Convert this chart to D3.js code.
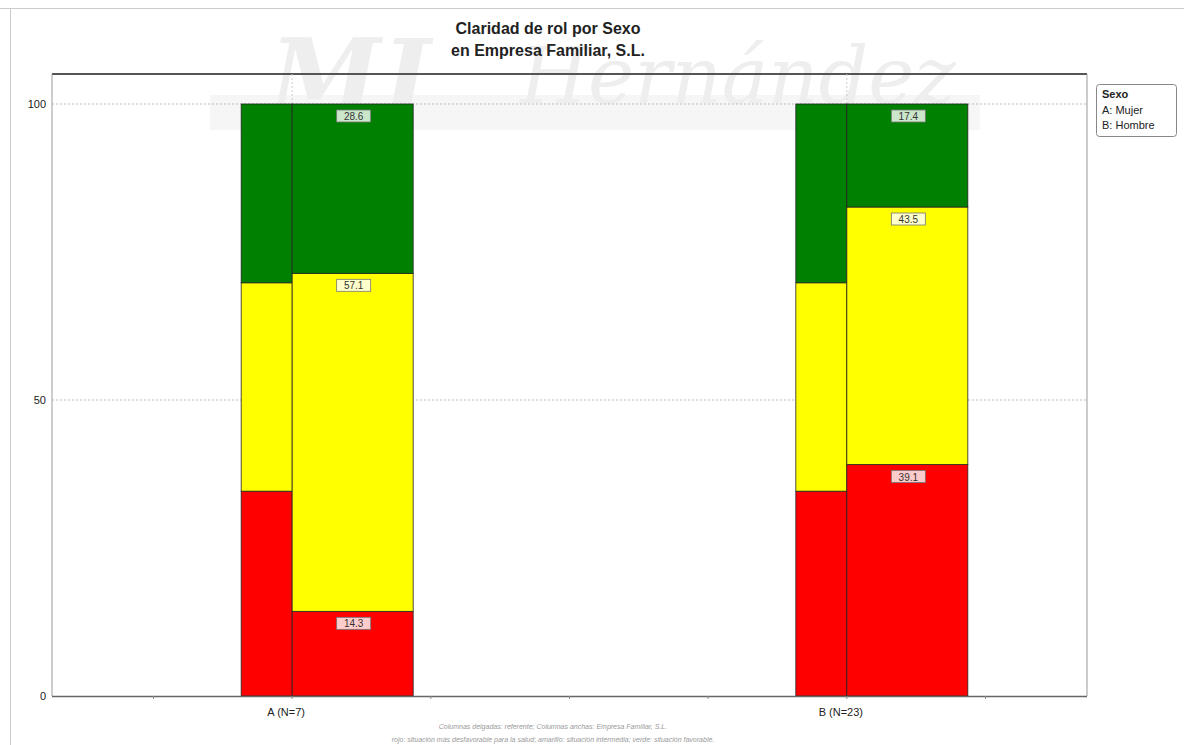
<!DOCTYPE html>
<html><head><meta charset="utf-8">
<script src="https://cdn.jsdelivr.net/npm/d3@7"></script>
<style>body{margin:0;background:#fff}svg{display:block;font-family:"Liberation Sans",Arial,sans-serif}</style>
</head><body><svg id="c" width="1184" height="745"></svg>
<script>
const categories = ["A (N=7)", "B (N=23)"];
const levels = ["rojo", "amarillo", "verde"];
const levelColors = ["#ff0000", "#ffff00", "#008000"];
const referente = [[34.6, 35.2, 30.2], [34.6, 35.2, 30.2]];
const empresa = [[14.3, 57.1, 28.6], [39.1, 43.5, 17.4]];
const yTicks = [0, 50, 100];
const legendTitle = "Sexo";
const legendItems = ["A: Mujer", "B: Hombre"];
const titleLines = ["Claridad de rol por Sexo", "en Empresa Familiar, S.L."];
const footLines = ["Columnas delgadas: referente; Columnas anchas: Empresa Familiar, S.L.",
  "rojo: situación más desfavorable para la salud; amarillo: situación intermedia; verde: situación favorable."];

const svg = d3.select("#c");
const L = 52, R = 1087, T = 74, B = 696;
const x = d3.scalePoint().domain(categories).range([L, R]).padding(0.433);
const y = d3.scaleLinear().domain([0, 100]).range([B, 104]);

// frame
svg.append("line").attr("x1", 0).attr("x2", 1184).attr("y1", 8.5).attr("y2", 8.5).attr("stroke", "#ccc");
svg.append("line").attr("x1", 10.5).attr("x2", 10.5).attr("y1", 8).attr("y2", 745).attr("stroke", "#ccc");

// watermark
const wm = svg.append("g").attr("opacity", 0.35);
wm.append("rect").attr("x", 210).attr("y", 95).attr("width", 770).attr("height", 35).attr("fill", "#e6e6e6");
wm.append("text").attr("x", 270).attr("y", 110).attr("font-family", "DejaVu Serif").attr("font-style", "italic")
  .attr("font-weight", "bold").attr("font-size", 100).attr("fill", "#cfcfcf").text("MJ");
wm.append("text").attr("x", 520).attr("y", 103).attr("font-family", "DejaVu Serif").attr("font-style", "italic")
  .attr("font-size", 78).attr("fill", "#cfcfcf").text("Hernández");

// title
svg.append("text").attr("x", 548).attr("text-anchor", "middle").attr("font-weight", "bold").attr("font-size", 16)
  .attr("fill", "#222").selectAll("tspan").data(titleLines).join("tspan")
  .attr("x", 548).attr("y", (d, i) => 34 + i * 22).text(d => d);

// plot borders
svg.append("line").attr("x1", L).attr("x2", R).attr("y1", T).attr("y2", T).attr("stroke", "#555").attr("stroke-width", 2);
svg.append("line").attr("x1", R).attr("x2", R).attr("y1", T).attr("y2", B).attr("stroke", "#999");
svg.append("line").attr("x1", L).attr("x2", L).attr("y1", T).attr("y2", B).attr("stroke", "#999");

// grid
svg.append("g").selectAll("line").data(yTicks.filter(d => d > 0)).join("line")
  .attr("x1", L).attr("x2", R).attr("y1", d => y(d)).attr("y2", d => y(d))
  .attr("stroke", "#bbb").attr("stroke-dasharray", "2,2");
svg.append("g").selectAll("line").data(categories).join("line")
  .attr("x1", d => x(d)).attr("x2", d => x(d)).attr("y1", T).attr("y2", B)
  .attr("stroke", "#ccc").attr("stroke-dasharray", "2,2");

// y axis
const ya = svg.append("g").attr("transform", `translate(${L},0)`)
  .call(d3.axisLeft(y).tickValues(yTicks).tickSize(0).tickPadding(6));
ya.select(".domain").remove();
ya.selectAll("text").attr("font-size", 11).attr("fill", "#222").attr("font-family", "Liberation Sans, Arial");

// stacks
const thinW = 51, wideW = 121;
function stacks(vals) { let c = 0; return vals.map((v, i) => { const s = { y0: c, y1: c + v, v, i }; c += v; return s; }); }
categories.forEach((cat, ci) => {
  const cx = x(cat);
  const g = svg.append("g");
  g.selectAll("rect.t").data(stacks(referente[ci])).join("rect").attr("class", "t")
    .attr("x", cx - thinW).attr("width", thinW).attr("y", d => y(d.y1)).attr("height", d => y(d.y0) - y(d.y1))
    .attr("fill", d => levelColors[d.i]).attr("stroke", "#222").attr("stroke-width", 0.8);
  const st = stacks(empresa[ci]);
  g.selectAll("rect.w").data(st).join("rect").attr("class", "w")
    .attr("x", cx).attr("width", wideW).attr("y", d => y(d.y1)).attr("height", d => y(d.y0) - y(d.y1))
    .attr("fill", d => levelColors[d.i]).attr("stroke", "#222").attr("stroke-width", 0.8);
  const lg = g.selectAll("g.lab").data(st).join("g").attr("class", "lab")
    .attr("transform", d => `translate(${cx + wideW / 2 + 1},${y(d.y1) + 12})`);
  lg.append("rect").attr("x", -17).attr("y", -6).attr("width", 34).attr("height", 12)
    .attr("fill", "#fff").attr("fill-opacity", 0.8).attr("stroke", "#777").attr("stroke-width", 0.8);
  lg.append("text").attr("text-anchor", "middle").attr("dy", 4).attr("font-size", 10).attr("fill", "#333")
    .text(d => d.v.toFixed(1));
});

// x axis
svg.append("line").attr("x1", L).attr("x2", R).attr("y1", B + 0.5).attr("y2", B + 0.5).attr("stroke", "#666").attr("stroke-width", 1.5);
const step = x.step() / 4;
const minor = d3.range(-7, 8).map(k => x(categories[0]) + k * step).filter(v => v > L && v < R);
svg.append("g").selectAll("line").data(minor).join("line")
  .attr("x1", d => d).attr("x2", d => d).attr("y1", B).attr("y2", B + 3).attr("stroke", "#888");
svg.append("g").selectAll("text").data(categories).join("text")
  .attr("x", d => x(d) - 6).attr("y", 716).attr("text-anchor", "middle").attr("font-size", 11).attr("fill", "#222")
  .text(d => d);

// footer
svg.append("g").selectAll("text").data(footLines).join("text")
  .attr("x", 553).attr("y", (d, i) => 729 + i * 13).attr("text-anchor", "middle").attr("font-size", 7)
  .attr("font-style", "italic").attr("fill", "#999").text(d => d);

// legend
const leg = svg.append("g").attr("transform", "translate(1096,84)");
leg.append("rect").attr("x", 0.5).attr("y", 0.5).attr("width", 80).attr("height", 52).attr("rx", 3)
  .attr("fill", "#fff").attr("stroke", "#888");
leg.append("text").attr("x", 6).attr("y", 14).attr("font-size", 11).attr("font-weight", "bold").attr("fill", "#222").text(legendTitle);
leg.selectAll("text.i").data(legendItems).join("text").attr("class", "i")
  .attr("x", 6).attr("y", (d, i) => 30 + i * 15).attr("font-size", 11).attr("fill", "#222").text(d => d);
</script></body></html>
